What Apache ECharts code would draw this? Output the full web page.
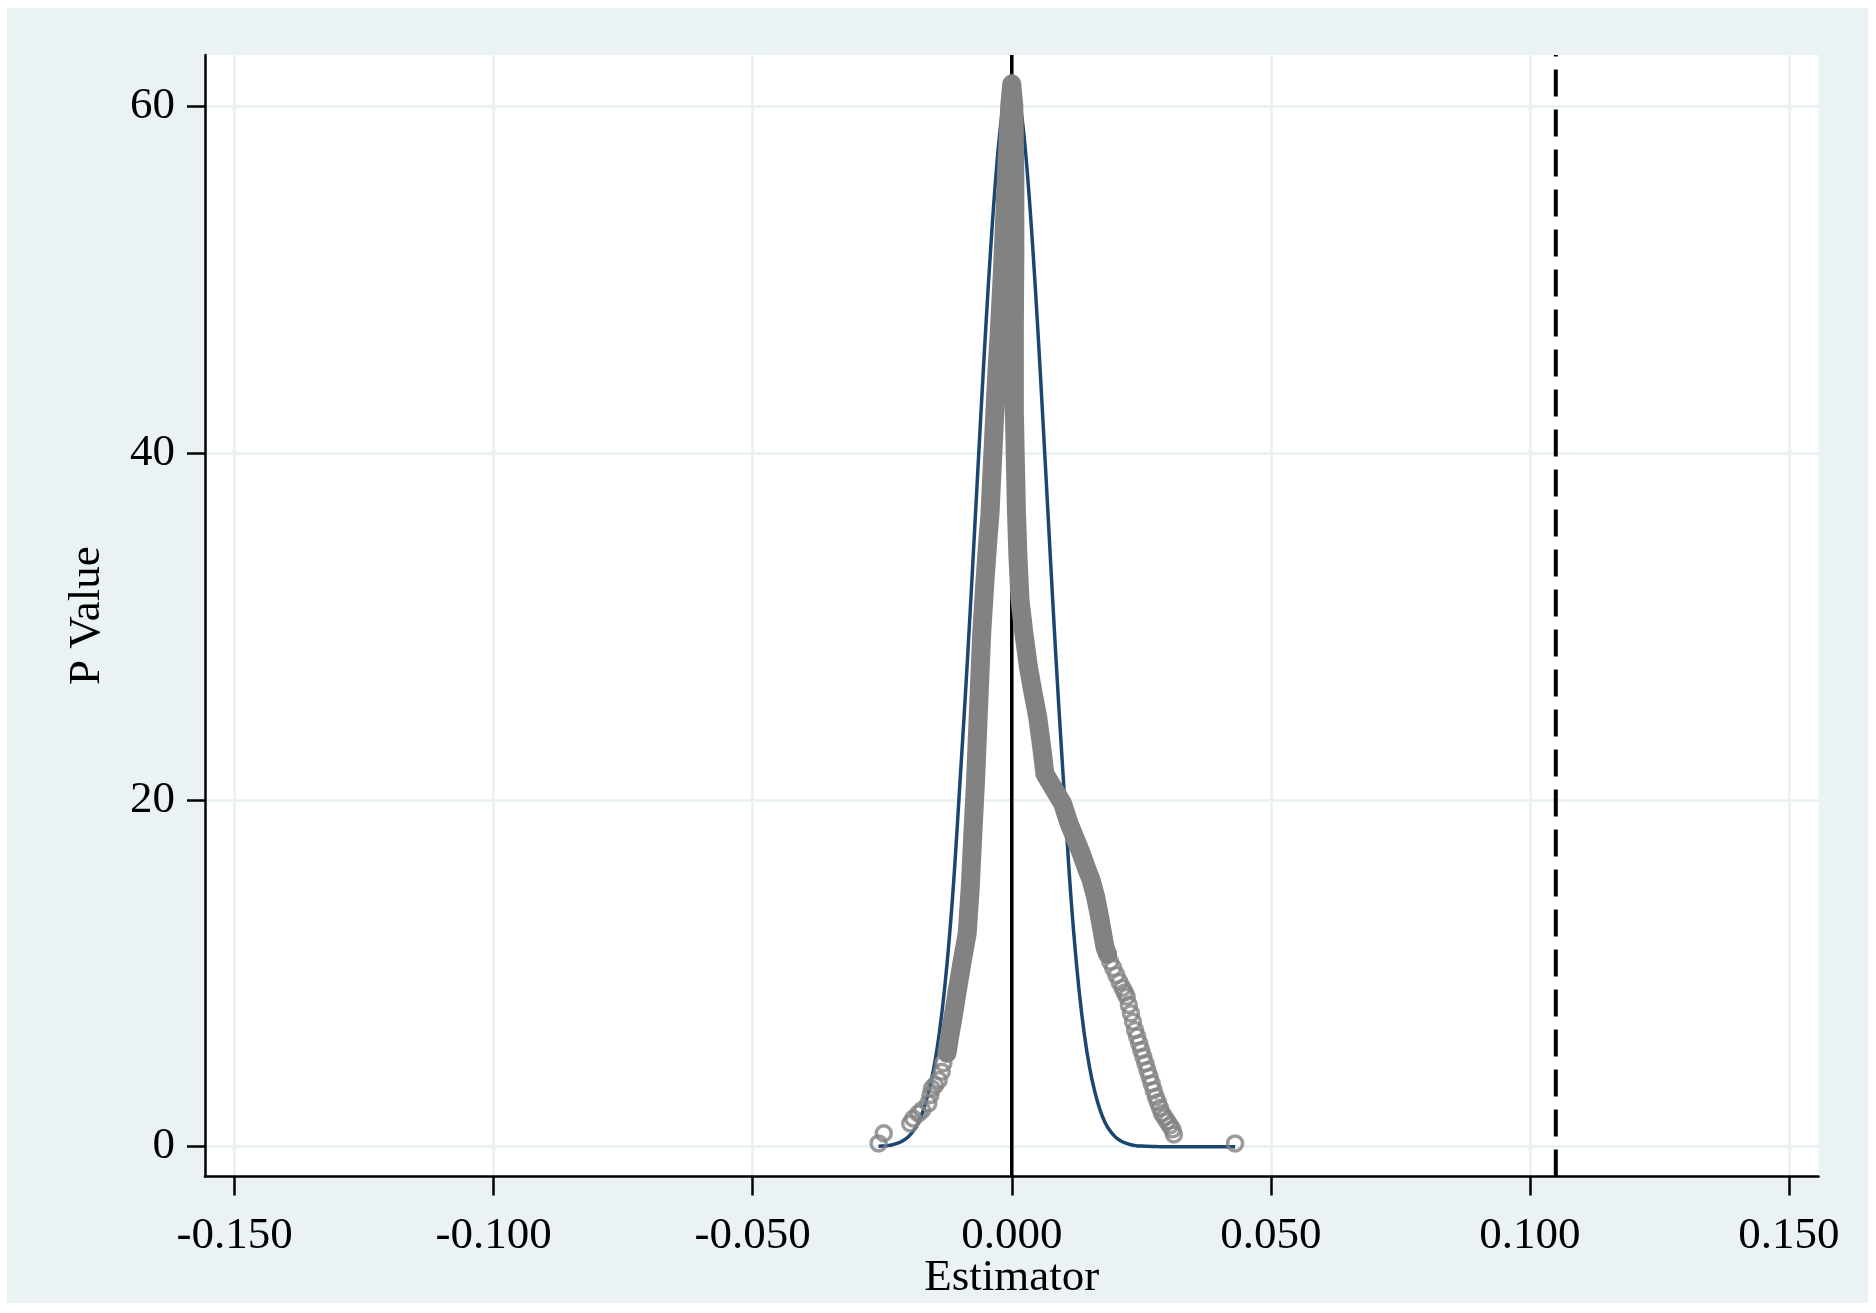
<!DOCTYPE html>
<html>
<head>
<meta charset="utf-8">
<script src="https://cdn.jsdelivr.net/npm/echarts@6/dist/echarts.min.js"></script>
<style>
html,body{margin:0;padding:0;background:#ffffff;}
#c{position:absolute;left:7px;top:8px;width:1861px;height:1295px;}
</style>
</head>
<body>
<div id="c"></div>
<script>
// ---- axes ----
const xRange = [-0.1557, 0.1557];
const yRange = [-1.72, 62.97];
const xTickValues = [-0.15, -0.10, -0.05, 0, 0.05, 0.10, 0.15];
const xTickLabels = ["-0.150", "-0.100", "-0.050", "0.000", "0.050", "0.100", "0.150"];
const yTickValues = [0, 20, 40, 60];
const yTickLabels = ["0", "20", "40", "60"];
const xTitle = "Estimator";
const yTitle = "P Value";

// ---- reference lines (x position, drawn across full y range) ----
const solidLineX = 0;
const dashedLineX = 0.105;

// ---- normal curve (blue) ----
const normalX = [-0.0257,-0.025,-0.024,-0.023,-0.022,-0.021,-0.020,-0.019,-0.018,-0.017,-0.016,-0.015,-0.014,-0.013,-0.012,-0.011,-0.010,-0.009,-0.008,-0.007,-0.006,-0.005,-0.004,-0.003,-0.002,-0.001,-0.0005,0,0.0005,0.001,0.002,0.003,0.004,0.005,0.006,0.007,0.008,0.009,0.010,0.011,0.012,0.013,0.014,0.015,0.016,0.017,0.018,0.019,0.020,0.021,0.022,0.023,0.024,0.025,0.026,0.027,0.028,0.030,0.032,0.035,0.040,0.0431];
const normalY = [0.025,0.035,0.06,0.11,0.2,0.34,0.56,0.9,1.4,2.15,3.2,4.6,6.5,9.0,12.2,16.2,21.0,25.8,31.0,36.5,42.0,47.3,52.1,56.2,59.3,61.1,61.6,61.8,61.6,61.1,59.3,56.2,52.1,47.3,42.0,36.5,31.0,25.8,21.0,16.2,12.2,9.0,6.5,4.6,3.2,2.15,1.4,0.9,0.56,0.34,0.2,0.11,0.06,0.035,0.02,0.01,0.005,0.001,0,0,0,0];

// ---- gray markers: dense core ----
const denseX = [-0.0125,-0.0119,-0.0112,-0.0104,-0.0095,-0.0086,-0.0080,-0.0075,-0.0070,-0.0066,-0.0062,-0.0058,-0.0052,-0.0046,-0.0042,-0.0038,-0.0034,-0.0029,-0.0024,-0.0018,-0.0013,-0.0008,-0.0004,0.0000,0.0004,0.0006,0.0006,0.0005,0.0005,0.0007,0.0009,0.0012,0.0016,0.0024,0.0032,0.0041,0.0050,0.0058,0.0064,0.0080,0.0098,0.0110,0.0122,0.0133,0.0145,0.0153,0.0162,0.0168,0.0174,0.0180,0.0185];
const denseY = [5.4,6.5,7.7,9.2,10.8,12.3,15.0,18.1,21.0,23.9,26.8,29.6,32.5,35.0,36.5,39.0,41.5,44.5,47.0,50.5,54.0,57.5,60.0,61.3,60.0,56.0,51.7,47.0,42.5,39.5,36.7,34.0,31.5,29.5,27.7,26.2,24.8,23.0,21.5,20.7,19.8,18.7,17.8,17.0,16.0,15.4,14.4,13.5,12.5,11.5,11.1];

// ---- gray markers: sparse tails (hollow circles) ----
const ringX = [-0.0257,-0.0247,-0.0196,-0.0190,-0.0180,-0.0173,-0.0161,-0.0157,-0.0154,-0.0148,-0.0141,-0.0135,-0.0132,-0.0125,-0.0122,-0.0119,-0.0115,-0.0112,-0.0109,-0.0106,
  0.0185,0.0190,0.0196,0.0202,0.0208,0.0214,0.0218,0.0222,0.0226,0.0230,0.0234,0.0238,0.0242,0.0246,0.0250,0.0254,0.0258,0.0262,0.0266,0.0270,0.0274,0.0278,0.0282,0.0286,0.0290,0.0295,0.0300,0.0305,0.0310,0.0313,0.0431];
const ringY = [0.19,0.77,1.34,1.63,1.92,2.11,2.50,2.98,3.36,3.55,3.84,4.32,4.81,5.38,5.96,6.54,7.11,7.69,8.27,9.04,
  11.1,10.67,10.3,9.9,9.5,9.15,8.9,8.65,8.17,7.69,7.21,6.73,6.35,5.96,5.58,5.19,4.81,4.42,4.04,3.65,3.27,2.88,2.56,2.24,1.92,1.69,1.46,1.23,1.0,0.7,0.19];

// ---- build ----
const FONT = "'Liberation Serif', 'Times New Roman', 'DejaVu Serif', serif";
const zip = (a, b) => a.map((v, i) => [v, b[i]]);
const labelFor = (vals, labels) => (v) => {
  for (let i = 0; i < vals.length; i++) if (Math.abs(vals[i] - v) < 1e-9) return labels[i];
  return '';
};
const vline = (x) => [[x, yRange[0]], [x, yRange[1]]];

const chart = echarts.init(document.getElementById('c'), null, {renderer: 'canvas'});
chart.setOption({
  animation: false,
  backgroundColor: '#eaf2f3',
  grid: {left: 198, right: 49.5, top: 47, bottom: 126.5, containLabel: false, outerBoundsMode: 'none',
         show: true, backgroundColor: '#ffffff', borderWidth: 0},
  xAxis: {
    type: 'value', min: xRange[0], max: xRange[1],
    name: xTitle, nameLocation: 'middle', nameGap: 79, nameMoveOverlap: false,
    nameTextStyle: {fontFamily: FONT, fontSize: 45, color: '#000'},
    axisLine: {show: true, onZero: false, lineStyle: {color: '#000', width: 2.5}},
    axisTick: {show: true, customValues: xTickValues, length: 19, lineStyle: {color: '#000', width: 2.5}},
    axisLabel: {customValues: xTickValues, formatter: labelFor(xTickValues, xTickLabels), margin: 37, fontFamily: FONT, fontSize: 45, color: '#000'},
    splitLine: {show: true, lineStyle: {color: '#eaf2f3', width: 3}}
  },
  yAxis: {
    type: 'value', min: yRange[0], max: yRange[1],
    name: yTitle, nameLocation: 'middle', nameGap: 95, nameMoveOverlap: false,
    nameTextStyle: {fontFamily: FONT, fontSize: 45, color: '#000'},
    axisLine: {show: true, onZero: false, lineStyle: {color: '#000', width: 2.5}},
    axisTick: {show: true, customValues: yTickValues, length: 18, lineStyle: {color: '#000', width: 2.5}},
    axisLabel: {customValues: yTickValues, formatter: labelFor(yTickValues, yTickLabels), margin: 30, fontFamily: FONT, fontSize: 45, color: '#000'},
    splitLine: {show: true, lineStyle: {color: '#eaf2f3', width: 3}}
  },
  series: [
    {
      name: 'zero line', type: 'line', z: 1, data: vline(solidLineX),
      showSymbol: false, silent: true,
      lineStyle: {color: '#000', width: 3.5, type: 'solid'}
    },
    {
      name: 'dashed line', type: 'line', z: 1, data: vline(dashedLineX),
      showSymbol: false, silent: true,
      lineStyle: {color: '#000', width: 4, type: [27, 13]}
    },
    {
      name: 'normal', type: 'line', z: 2, data: zip(normalX, normalY),
      showSymbol: false, smooth: 0.4, silent: true,
      lineStyle: {color: '#1a476f', width: 3.5}
    },
    {
      name: 'dense', type: 'line', z: 3, data: zip(denseX, denseY),
      showSymbol: false, smooth: false, silent: true,
      lineStyle: {color: '#828282', width: 19, cap: 'round', join: 'round'}
    },
    {
      name: 'rings', type: 'scatter', z: 3, data: zip(ringX, ringY),
      symbol: 'circle', symbolSize: 15, silent: true,
      itemStyle: {color: 'rgba(0,0,0,0)', borderColor: '#828282', borderWidth: 3.5}
    }
  ]
});
</script>
</body>
</html>
